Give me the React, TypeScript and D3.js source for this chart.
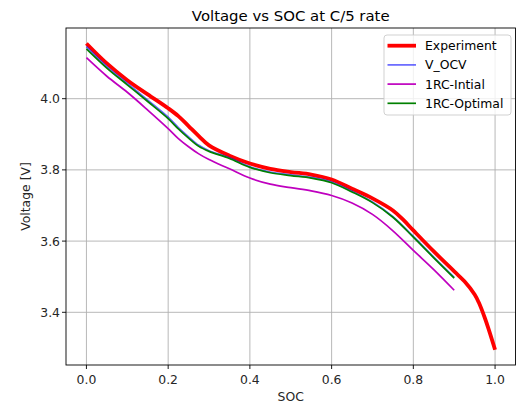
import React from "react";
import * as d3 from "d3";

const socExp = [0, 0.05, 0.1, 0.15, 0.2, 0.225, 0.25, 0.275, 0.3, 0.35, 0.4, 0.45, 0.5, 0.55, 0.6, 0.65, 0.7, 0.75, 0.775, 0.8, 0.85, 0.9, 0.925, 0.95, 0.96, 0.975, 0.985, 1.0];
const vExp = [4.155, 4.099, 4.052, 4.012, 3.973, 3.951, 3.923, 3.895, 3.869, 3.84, 3.818, 3.803, 3.794, 3.787, 3.773, 3.747, 3.72, 3.686, 3.66, 3.63, 3.571, 3.515, 3.487, 3.45, 3.428, 3.384, 3.35, 3.295];

const socModel = [0, 0.05, 0.1, 0.15, 0.2, 0.225, 0.25, 0.275, 0.3, 0.35, 0.4, 0.45, 0.5, 0.55, 0.6, 0.65, 0.7, 0.75, 0.8, 0.85, 0.9];
const vOcv = [4.146, 4.09, 4.043, 3.996, 3.948, 3.919, 3.893, 3.869, 3.854, 3.834, 3.809, 3.794, 3.786, 3.779, 3.766, 3.74, 3.71, 3.669, 3.613, 3.555, 3.498];
const vInitial = [4.115, 4.063, 4.018, 3.968, 3.916, 3.888, 3.865, 3.845, 3.829, 3.803, 3.777, 3.76, 3.75, 3.741, 3.728, 3.707, 3.675, 3.629, 3.574, 3.52, 3.462];
const vOptimal = [4.14, 4.086, 4.039, 3.992, 3.944, 3.915, 3.889, 3.866, 3.852, 3.832, 3.807, 3.792, 3.784, 3.777, 3.764, 3.738, 3.708, 3.667, 3.611, 3.553, 3.496];

const xTicks = [0, 0.2, 0.4, 0.6, 0.8, 1.0];
const yTicks = [3.4, 3.6, 3.8, 4.0];

const series = [
  { name: "Experiment", x: socExp, y: vExp, color: "#ff0000", width: 3.8, opacity: 1 },
  { name: "V_OCV", x: socModel, y: vOcv, color: "#0000ff", width: 1.7, opacity: 0.6 },
  { name: "1RC-Intial", x: socModel, y: vInitial, color: "#bf00bf", width: 1.7, opacity: 1 },
  { name: "1RC-Optimal", x: socModel, y: vOptimal, color: "#008000", width: 1.7, opacity: 1 },
];

export default function App() {
  const W = 517, H = 405;
  const left = 66, right = 515.5, top = 28, bottom = 365;
  const x = d3.scaleLinear().domain([-0.05, 1.05]).range([left, right]);
  const y = d3.scaleLinear().domain([3.252, 4.1985]).range([bottom, top]);
  const font = "DejaVu Sans, sans-serif";
  const tickFs = 12.4;
  const lineGen = (xs: number[], ys: number[]) =>
    d3.line<number>().x((_, i) => x(xs[i])).y((d) => y(d)).curve(d3.curveCatmullRom.alpha(0.5))(ys) || "";

  const legX = 384, legY = 35, legW = 127, legH = 80;
  return (
    <svg width={W} height={H} style={{ position: "absolute", left: 0, top: 0, background: "#fff" }} fontFamily={font}>
      <rect x={0} y={0} width={W} height={H} fill="#fff" />
      <defs>
        <clipPath id="ax">
          <rect x={left} y={top} width={right - left} height={bottom - top} />
        </clipPath>
      </defs>
      {xTicks.map((t) => (
        <line key={"gx" + t} x1={x(t)} x2={x(t)} y1={top} y2={bottom} stroke="#b0b0b0" strokeWidth={0.9} />
      ))}
      {yTicks.map((t) => (
        <line key={"gy" + t} x1={left} x2={right} y1={y(t)} y2={y(t)} stroke="#b0b0b0" strokeWidth={0.9} />
      ))}
      <g clipPath="url(#ax)">
        {series.map((s) => (
          <path key={s.name} d={lineGen(s.x, s.y)} fill="none" stroke={s.color} strokeWidth={s.width} strokeOpacity={s.opacity} strokeLinecap="butt" strokeLinejoin="round" />
        ))}
      </g>
      <rect x={left} y={top} width={right - left} height={bottom - top} fill="none" stroke="#000" strokeWidth={0.9} />
      {xTicks.map((t) => (
        <g key={"tx" + t}>
          <line x1={x(t)} x2={x(t)} y1={bottom} y2={bottom + 4} stroke="#000" strokeWidth={0.9} />
          <text x={x(t)} y={bottom + 19} fontSize={tickFs} textAnchor="middle" fill="#262626">{t.toFixed(1)}</text>
        </g>
      ))}
      {yTicks.map((t) => (
        <g key={"ty" + t}>
          <line x1={left - 4} x2={left} y1={y(t)} y2={y(t)} stroke="#000" strokeWidth={0.9} />
          <text x={left - 6} y={y(t) + 4.5} fontSize={tickFs} textAnchor="end" fill="#262626">{t.toFixed(1)}</text>
        </g>
      ))}
      <text x={(left + right) / 2} y={401} fontSize={tickFs} textAnchor="middle" fill="#262626">SOC</text>
      <text transform={`translate(29.5,${(top + bottom) / 2}) rotate(-90)`} fontSize={tickFs} textAnchor="middle" fill="#262626">Voltage [V]</text>
      <text x={(left + right) / 2} y={20.5} fontSize={14.9} textAnchor="middle" fill="#000">Voltage vs SOC at C/5 rate</text>
      <rect x={legX} y={legY} width={legW} height={legH} rx={3} fill="#fff" fillOpacity={0.8} stroke="#cccccc" strokeWidth={0.9} />
      {series.map((s, i) => {
        const ry = 45.7 + i * 19.2;
        return (
          <g key={"lg" + s.name}>
            <line x1={387.5} x2={416} y1={ry} y2={ry} stroke={s.color} strokeWidth={s.width} strokeOpacity={s.opacity} />
            <text x={425} y={ry + 4.5} fontSize={tickFs} fill="#000">{s.name}</text>
          </g>
        );
      })}
    </svg>
  );
}
